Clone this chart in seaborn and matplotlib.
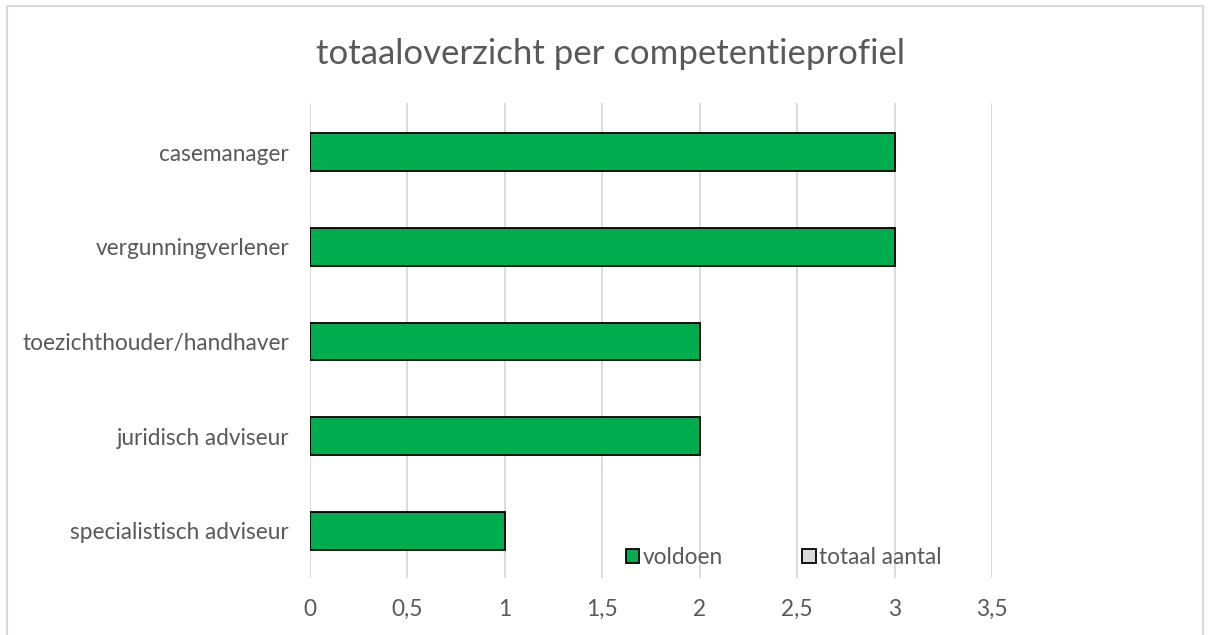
import numpy as np
import pandas as pd
import matplotlib
matplotlib.use('Agg')
import matplotlib.pyplot as plt
from matplotlib.patches import Patch, Rectangle
from matplotlib.ticker import FuncFormatter
import seaborn as sns

profielen = ['casemanager', 'vergunningverlener', 'toezichthouder/handhaver',
             'juridisch adviseur', 'specialistisch adviseur']
voldoen = [3, 3, 2, 2, 1]
series_names = ['voldoen', 'totaal aantal']
series_colors = ['#00AD4E', '#D9D9D9']
x_ticks = [0, 0.5, 1, 1.5, 2, 2.5, 3, 3.5]

df = pd.DataFrame({'profiel': profielen, 'voldoen': voldoen})

sns.set_style('white')
plt.rcParams['font.family'] = ['Lato', 'DejaVu Sans']
text_col = '#595959'

fig = plt.figure(figsize=(12.13, 6.35), dpi=100)
ax = fig.add_axes([0.2556, 0.0898, 0.8178 - 0.2556, 0.8378 - 0.0898])

sns.barplot(data=df, x='voldoen', y='profiel', order=profielen, orient='h',
            color=series_colors[0], edgecolor='black', linewidth=1.3,
            width=0.4, saturation=1, ax=ax)

ax.set_xlim(0, 3.5)
ax.set_ylim(len(profielen) - 0.5, -0.52)
ax.set_xticks(x_ticks)
ax.xaxis.set_major_formatter(FuncFormatter(lambda v, p: f'{v:g}'.replace('.', ',')))
ax.grid(axis='x', color='#D9D9D9', linewidth=1.3)
ax.grid(axis='y', visible=False)
ax.set_axisbelow(True)
for s in ax.spines.values():
    s.set_visible(False)
ax.tick_params(axis='both', length=0, labelsize=16.3, colors=text_col)
ax.tick_params(axis='y', pad=15)
ax.tick_params(axis='x', pad=15)
ax.set_xlabel('')
ax.set_ylabel('')

fig.suptitle('totaaloverzicht per competentieprofiel', fontsize=25,
             color=text_col, x=0.503, y=0.94)

handles = [Patch(facecolor=c, edgecolor='black', linewidth=1.3) for c in series_colors]
fig.legend(handles, series_names, loc='center', bbox_to_anchor=(0.646, 0.122),
           ncol=2, frameon=False, fontsize=16.3, labelcolor=text_col,
           handlelength=0.6, handleheight=0.6, handletextpad=0.15,
           columnspacing=3.5)

fig.patches.append(Rectangle((7 / 1213, -0.02), 1196 / 1213, 1.02 - 6 / 635,
                             transform=fig.transFigure, fill=False,
                             edgecolor='#D9D9D9', linewidth=1.5))

fig.savefig('out.png', dpi=100)
